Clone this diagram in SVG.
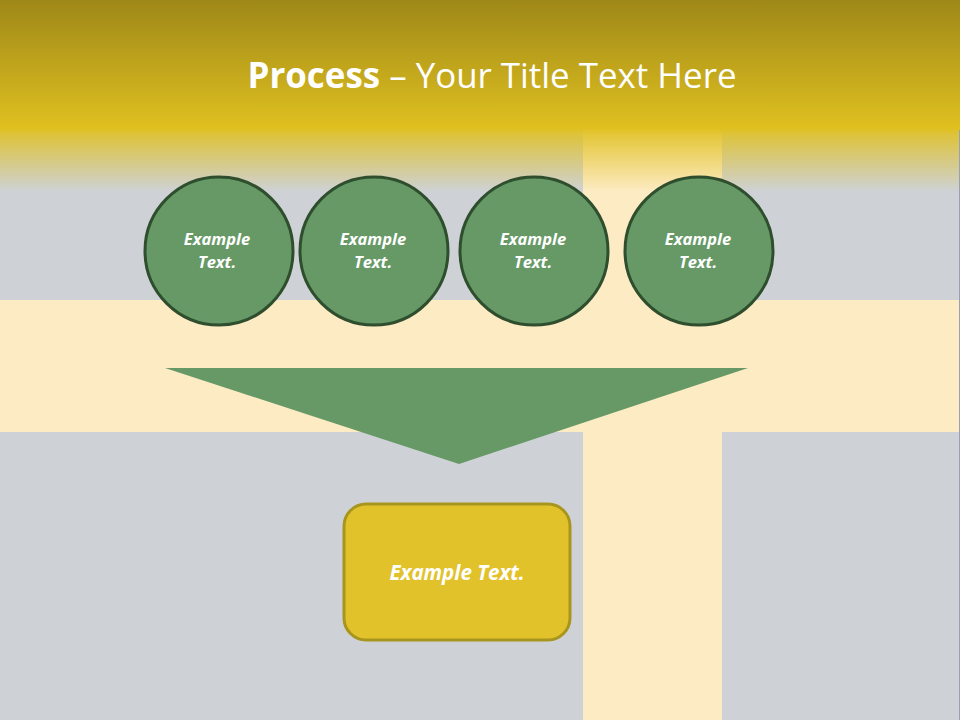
<svg xmlns="http://www.w3.org/2000/svg" width="960" height="720" viewBox="0 0 960 720">
<defs>
<linearGradient id="topg" x1="0" y1="0" x2="0" y2="1">
<stop offset="0" stop-color="#9E8818"/>
<stop offset="0.67" stop-color="#E0C020"/>
<stop offset="0.7" stop-color="#E0C020" stop-opacity="0.85"/>
<stop offset="1" stop-color="#E0C020" stop-opacity="0"/>
</linearGradient>
<style>
.c{fill:#669966;stroke:#2E4E2E;stroke-width:3}
.t{fill:#FFFFFF;font-family:"Open Sans","Liberation Sans",sans-serif;font-style:italic;font-weight:bold;text-anchor:middle}
</style>
</defs>
<rect x="0" y="0" width="960" height="720" fill="#CED2D6"/>
<rect x="0" y="300" width="960" height="132" fill="#FDEBC4"/>
<rect x="583" y="120" width="139" height="600" fill="#FDEBC4"/>
<rect x="0" y="0" width="960" height="192" fill="url(#topg)"/>
<line x1="959.5" y1="130" x2="959.5" y2="720" stroke="#9AA0AE" stroke-width="1"/>
<text x="492" y="88" fill="#FFFFFF" font-family="Open Sans, Liberation Sans, sans-serif" font-size="35" text-anchor="middle" textLength="489" lengthAdjust="spacingAndGlyphs"><tspan font-weight="bold">Process</tspan> – Your Title Text Here</text>
<g id="connectors"/>
<g id="n1"><circle class="c" cx="219" cy="251" r="74"/><text class="t" font-size="16.5"><tspan x="217" y="245">Example</tspan><tspan x="217" y="268">Text.</tspan></text></g>
<g id="n2"><circle class="c" cx="374" cy="251" r="74"/><text class="t" font-size="16.5"><tspan x="373" y="245">Example</tspan><tspan x="373" y="268">Text.</tspan></text></g>
<g id="n3"><circle class="c" cx="534" cy="251" r="74"/><text class="t" font-size="16.5"><tspan x="533" y="245">Example</tspan><tspan x="533" y="268">Text.</tspan></text></g>
<g id="n4"><circle class="c" cx="699" cy="251" r="74"/><text class="t" font-size="16.5"><tspan x="698" y="245">Example</tspan><tspan x="698" y="268">Text.</tspan></text></g>
<g id="funnel"><polygon points="165,368 748,368 459,464" fill="#669966"/></g>
<g id="box"><rect x="344" y="504" width="226" height="136" rx="22" fill="#E2C22B" stroke="#A8951E" stroke-width="3"/><text class="t" x="457" y="580" font-size="20.5">Example Text.</text></g>
</svg>
